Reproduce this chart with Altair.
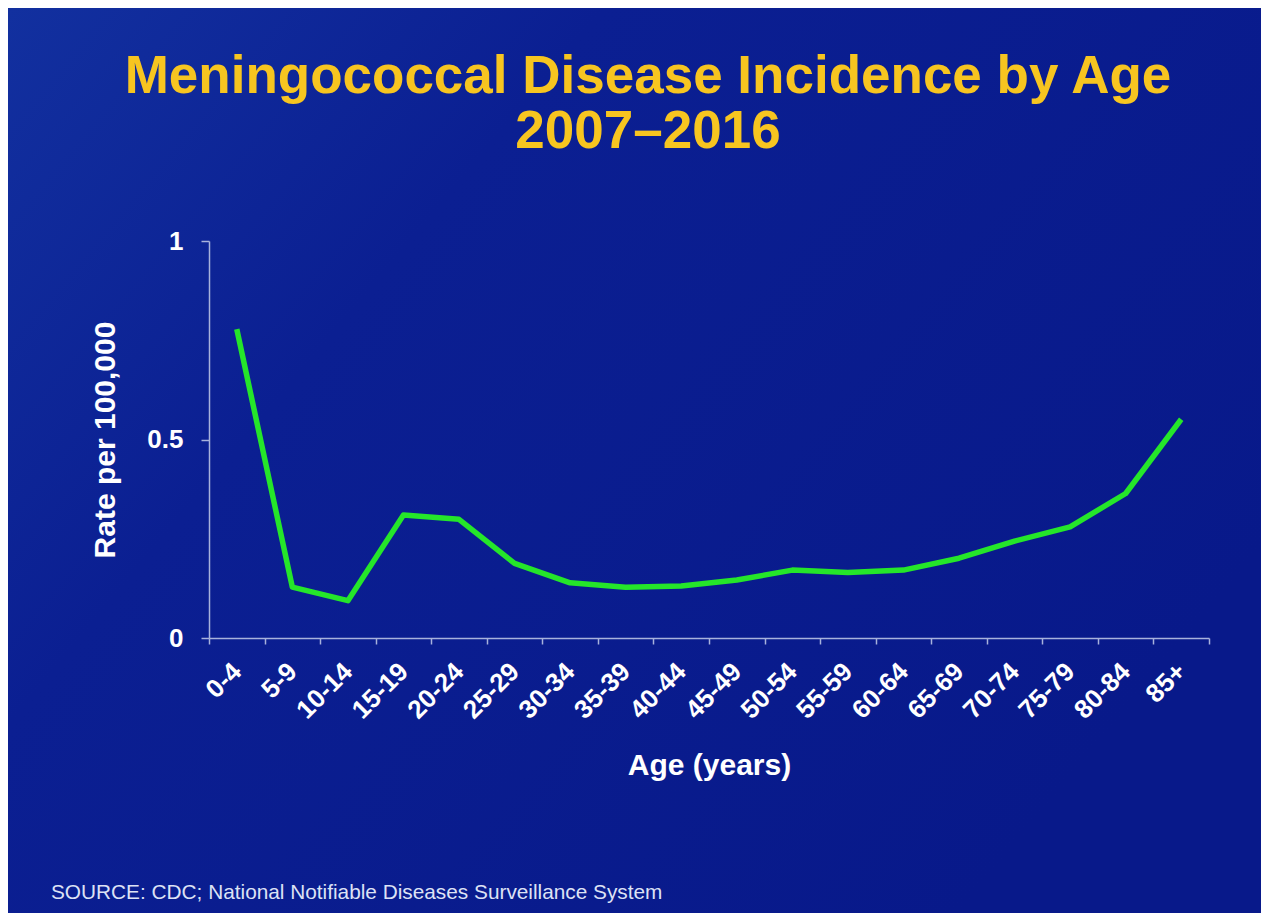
import altair as alt
import pandas as pd

ages = ["0-4", "5-9", "10-14", "15-19", "20-24", "25-29", "30-34", "35-39", "40-44",
        "45-49", "50-54", "55-59", "60-64", "65-69", "70-74", "75-79", "80-84", "85+"]
rates = [0.778, 0.128, 0.094, 0.310, 0.299, 0.188, 0.139, 0.128, 0.131,
         0.146, 0.171, 0.165, 0.171, 0.201, 0.244, 0.280, 0.364, 0.551]

title_lines = ["Meningococcal Disease Incidence by Age", "2007\u20132016"]
source_text = "SOURCE: CDC; National Notifiable Diseases Surveillance System"

df = pd.DataFrame({"age": ages, "rate": rates})

FONT = "Liberation Sans"
AXIS_COLOR = "#a8b2dc"

bg = alt.Chart(alt.Data(values=[{"k": 1}])).mark_rect(
    color=alt.LinearGradient(
        gradient="linear",
        stops=[alt.GradientStop(color="#12309f", offset=0),
               alt.GradientStop(color="#0b1f92", offset=0.35),
               alt.GradientStop(color="#08198a", offset=1)],
        x1=0, x2=1, y1=0, y2=0.6,
    )
).encode(
    x=alt.value(-201), x2=alt.value(1052), y=alt.value(-233), y2=alt.value(672)
)

line = alt.Chart(df).mark_line(color="#25e62a", strokeWidth=5.5, strokeJoin="round").encode(
    x=alt.X("age:N", sort=ages, title="Age (years)",
            scale=alt.Scale(paddingInner=0, paddingOuter=0),
            axis=alt.Axis(labelAngle=-45, labelAlign="right", labelBaseline="middle",
                          labelFontSize=26, labelFontWeight="bold", labelColor="white",
                          labelFont=FONT, labelPadding=23, tickSize=6, tickBand="extent",
                          domainColor=AXIS_COLOR, tickColor=AXIS_COLOR, domainWidth=1.5,
                          tickWidth=1.5, titleFontSize=30, titleFont=FONT,
                          titleFontWeight="bold", titleColor="white", titlePadding=27,
                          grid=False, zindex=1)),
    y=alt.Y("rate:Q", title="Rate per 100,000",
            scale=alt.Scale(domain=[0, 1], nice=False),
            axis=alt.Axis(values=[0, 0.5, 1], format="~g", labelFontSize=26,
                          labelFontWeight="bold", labelColor="white", labelFont=FONT,
                          labelPadding=18, tickSize=8, domainColor=AXIS_COLOR,
                          tickColor=AXIS_COLOR, domainWidth=1.5, tickWidth=1.5,
                          titleFontSize=30, titleFont=FONT, titleFontWeight="bold",
                          titleColor="white", titlePadding=26, grid=False, zindex=1)),
)

src = alt.Chart(alt.Data(values=[{"t": source_text}])).mark_text(
    align="left", baseline="alphabetic", font=FONT, fontSize=20.8, color="#dde2f5"
).encode(x=alt.value(-158), y=alt.value(658), text="t:N")

chart = alt.layer(bg, line, src).properties(
    width=1000,
    height=397,
    autosize=alt.AutoSizeParams(type="none"),
    padding={"left": 201, "top": 233, "right": 52, "bottom": 275},
    title=alt.TitleParams(text=title_lines, font=FONT, fontSize=53, fontWeight="bold",
                          color="#F7C520", anchor="middle", dx=-61, lineHeight=55,
                          baseline="alphabetic", offset=0, dy=193),
).configure(background="#0a1b8c").configure_view(stroke=None)

chart.save("out.html", embed_options={"renderer": "svg", "actions": False})
